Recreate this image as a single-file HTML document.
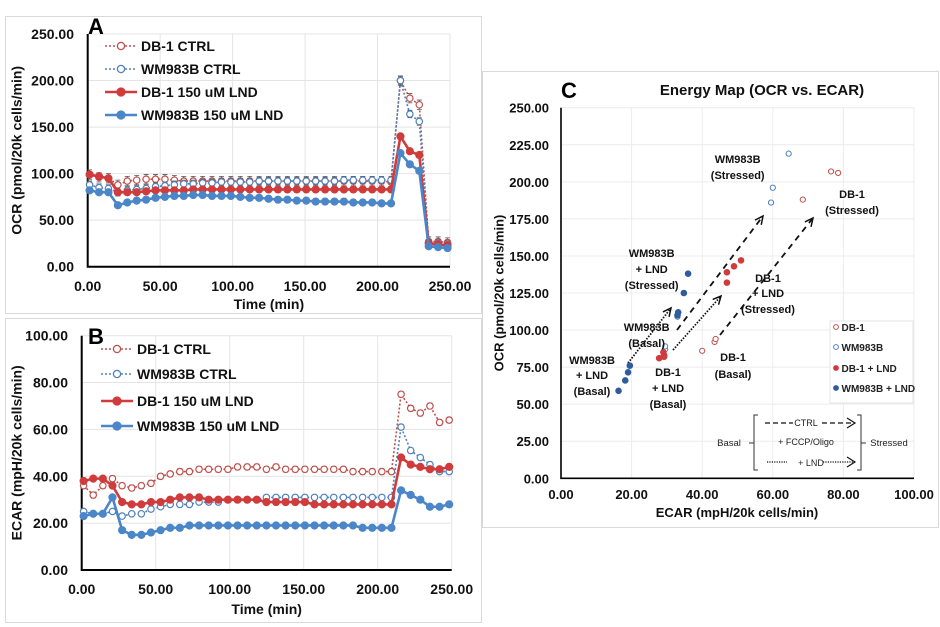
<!DOCTYPE html>
<html><head><meta charset="utf-8"><style>
html,body{margin:0;padding:0;background:#fff;}
svg{display:block;font-family:"Liberation Sans",Arial,sans-serif;}
</style></head><body>
<svg id="fig" width="940" height="627" viewBox="0 0 940 627">
<rect x="0" y="0" width="940" height="627" fill="#fff"/>
<rect x="5.5" y="16.5" width="476" height="297" fill="none" stroke="#d9d9d9"/>
<rect x="5.5" y="318.5" width="476" height="304" fill="none" stroke="#d9d9d9"/>
<rect x="482.5" y="71.5" width="456" height="456" fill="none" stroke="#d9d9d9"/>
<g id="A"></g>
<g id="B"></g>
<g id="C"></g>
</svg>
<script>
// ---------- shared data ----------
const times=[1.3,7.8,14.3,20.8,27.3,33.8,40.3,46.8,53.3,59.8,66.3,72.8,79.3,85.8,92.3,98.8,105.3,111.8,118.3,124.8,131.3,137.8,144.3,150.8,157.3,163.8,170.3,176.8,183.3,189.8,196.3,202.8,209.3,215.8,222.3,228.8,235.3,241.8,248.3];
// Panel A OCR
const ocrDbCtrl=[99,96,95,88,92,93,94,94,94,93,92,92,92,92,92,92,92,92,92,92,92,92,92,92,92,92,92,92,92,92,92,92,91,200,181,174,27,27,26];
const ocrWmCtrl=[88,85,84,80,82,83,84,86,87,88,89,89,90,90,91,91,91,91,92,92,92,92,92,92,92,92,92,93,93,93,93,93,93,200,164,156,25,25,24];
const ocrDbLnd=[99,97,95,80,80,80,81,82,82,82,82,83,83,83,83,83,83,83,83,83,83,83,83,83,83,83,83,83,83,83,83,83,83,140,124,120,25,24,23];
const ocrWmLnd=[82,80,80,66,69,71,72,74,75,76,76,77,77,76,76,76,75,74,74,73,72,72,71,71,70,70,70,70,69,69,69,68,68,122,110,103,22,21,20];
const ocrErr=[5,4,3,3];
const ocrTicks=["0.00","50.00","100.00","150.00","200.00","250.00"];
// Panel B ECAR
const ecarDbCtrl=[36,32,36,39,36,35,36,37,40,41,42,42,43,43,43,43,44,44,44,43,44,43,43,43,43,43,43,43,42,42,42,42,42,75,69,67,70,63,64];
const ecarWmCtrl=[25,24,24,25,23,24,24,26,27,28,28,28,29,29,29,30,30,30,30,31,31,31,31,31,31,31,31,31,31,31,31,31,31,61,51,48,45,42,42];
const ecarDbLnd=[38,39,39,36,29,28,28,29,29,30,31,31,31,30,30,30,30,30,30,29,29,29,29,29,28,28,28,28,28,28,28,28,28,48,45,44,43,43,44];
const ecarWmLnd=[23,24,24,31,17,15,15,16,17,18,18,19,19,19,19,19,19,19,19,19,19,19,19,19,19,19,19,19,19,18,18,18,18,34,32,30,27,27,28];
const ecarErr=[1.2,1,0.6,0.6];
const ecarTicks=["0.00","20.00","40.00","60.00","80.00","100.00"];
const timeTicks=["0.00","50.00","100.00","150.00","200.00","250.00"];
// Panel C energy map
const cDbX=[40,43.5,43.8,68.5,76.5,78.5];
const cDbY=[86,92,94,188,207,206];
const cWmX=[29.5,29.5,33,59.5,60,64.5];
const cWmY=[87,89,109,186,196,219];
const cDbLndX=[27.8,29,29.2,29.2,47,47,49,51];
const cDbLndY=[81,85,83,82,132,139,143,147];
const cWmLndX=[16.3,18.2,19,19.5,33,33.2,34.8,36];
const cWmLndY=[59,66,71.5,76,110,112,125,138];
const cXTicks=["0.00","20.00","40.00","60.00","80.00","100.00"];
const cYTicks=["0.00","25.00","50.00","75.00","100.00","125.00","150.00","175.00","200.00","225.00","250.00"];

const NS="http://www.w3.org/2000/svg";
const RED="#c0504d",BLUE="#4f81bd",RED2="#d03b3b",BLUE2="#4a86c8";
function mk(parent,tag,attrs,text){const e=document.createElementNS(NS,tag);for(const k in attrs)e.setAttribute(k,attrs[k]);if(text!==undefined)e.textContent=text;parent.appendChild(e);return e;}

function timeChart(g,o){
  const sx=v=>o.x0+(v/250)*(o.x1-o.x0);
  const sy=v=>o.y0-(v/o.ymax)*(o.y0-o.y1);
  o.yt.forEach((t,i)=>{const v=parseFloat(t);const y=sy(v);
    if(v>0){const l=mk(g,'line',{x1:o.x0,x2:o.x1,y1:y,y2:y,stroke:'#e4e4e4'});
    
    }
    const tx=mk(g,'text',{x:o.ylx,y:y+5,'text-anchor':'end','font-size':14,'font-weight':'bold',fill:'#111'},t);
    
    });
  timeTicks.forEach(t=>{const v=parseFloat(t);const x=sx(v);
    if(v>0){const l=mk(g,'line',{x1:x,x2:x,y1:o.y0,y2:o.y1,stroke:'#e4e4e4'});
    
    }
    const tx=mk(g,'text',{x:x,y:o.xly,'text-anchor':'middle','font-size':14,'font-weight':'bold',fill:'#111'},t);
    
    });
  const ax=mk(g,'path',{d:`M${o.x0} ${o.y1}V${o.y0}H${o.x1}`,stroke:'#000','stroke-width':2,fill:'none'});
  
  
  const xt=mk(g,'text',{x:(o.x0+o.x1)/2,y:o.xty,'text-anchor':'middle','font-size':14,'font-weight':'bold',fill:'#111'},'Time (min)');
  
  
  const yc=(o.y0+o.y1)/2;
  const yt=mk(g,'text',{x:18,y:yc,transform:`rotate(-90 18 ${yc})`,'text-anchor':'middle','dominant-baseline':'middle','font-size':14,'font-weight':'bold',fill:'#111'},o.ytitle);
  
  
  const lt=mk(g,'text',{x:o.letx,y:o.lety,'font-size':22,'font-weight':'bold',fill:'#000'},o.letter);
  
  
  const defs=[{d:o.s[0],c:RED,open:true,n:'DB-1 CTRL'},{d:o.s[1],c:BLUE,open:true,n:'WM983B CTRL'},{d:o.s[2],c:RED2,open:false,n:'DB-1 150 uM LND'},{d:o.s[3],c:BLUE2,open:false,n:'WM983B 150 uM LND'}];
  defs.forEach((s,k)=>{
    const sg=mk(g,'g',{});
    
    
    const pts=s.d.map((v,i)=>sx(times[i])+','+sy(v)).join(' ');
    mk(sg,'polyline',{points:pts,fill:'none',stroke:s.c,'stroke-width':s.open?1.6:2.6,'stroke-dasharray':s.open?'2 2':'none'});
    s.d.forEach((v,i)=>{const x=sx(times[i]),y=sy(v),e=o.err[k]*(o.y0-o.y1)/o.ymax;
      mk(sg,'path',{d:`M${x} ${y-e}V${y+e}M${x-2.5} ${y-e}h5M${x-2.5} ${y+e}h5`,stroke:'#555','stroke-width':0.8});
      const c=mk(sg,'circle',{cx:x,cy:y,r:s.open?3.2:3.5,fill:s.open?'#fff':s.c,stroke:s.c,'stroke-width':1.2});
      
      });
    const ly=o.legy[k];
    const lg=mk(g,'g',{});
    
    
    mk(lg,'line',{x1:o.legx,x2:o.legx+32,y1:ly,y2:ly,stroke:s.c,'stroke-width':s.open?1.6:2.6,'stroke-dasharray':s.open?'2 2':'none'});
    mk(lg,'circle',{cx:o.legx+16,cy:ly,r:s.open?3.6:4,fill:s.open?'#fff':s.c,stroke:s.c,'stroke-width':1.3});
    mk(lg,'text',{x:o.legx+36,y:ly+5,'font-size':14,'font-weight':'bold',fill:'#111'},s.n);
  });
}
timeChart(document.getElementById('A'),{x0:87.7,x1:450,y0:266.7,y1:34,ymax:250,yt:ocrTicks,ylx:74,xly:291,xty:309,ytitle:'OCR (pmol/20k cells/min)',letter:'A',letx:88,lety:34,s:[ocrDbCtrl,ocrWmCtrl,ocrDbLnd,ocrWmLnd],err:ocrErr,legx:105,legy:[46,69,92,115]});
timeChart(document.getElementById('B'),{x0:81.7,x1:451.7,y0:570,y1:335.7,ymax:100,yt:ecarTicks,ylx:68,xly:594,xty:614,ytitle:'ECAR (mpH/20k cells/min)',letter:'B',letx:88,lety:344,s:[ecarDbCtrl,ecarWmCtrl,ecarDbLnd,ecarWmLnd],err:ecarErr,legx:101,legy:[349,374,401,426]});

// ---------- Panel C ----------
(function(){
  const g=document.getElementById('C');
  const x0=561,x1=914,y0=478.3,y1=107.7;
  const sx=v=>x0+v/100*(x1-x0), sy=v=>y0-v/250*(y0-y1);
  cYTicks.forEach(t=>{const v=parseFloat(t),y=sy(v);
    if(v>0){const l=mk(g,'line',{x1:x0,x2:x1,y1:y,y2:y,stroke:'#ececec'});
    
    }
    const tx=mk(g,'text',{x:549,y:y+5,'text-anchor':'end','font-size':13,'font-weight':'bold',fill:'#111'},t);
    
    });
  cXTicks.forEach(t=>{const v=parseFloat(t),x=sx(v);
    if(v>0){const l=mk(g,'line',{x1:x,x2:x,y1:y0,y2:y1,stroke:'#ececec'});
    
    }
    const tx=mk(g,'text',{x:x,y:499,'text-anchor':'middle','font-size':13,'font-weight':'bold',fill:'#111'},t);
    
    });
  const ax=mk(g,'path',{d:`M${x0} ${y1}V${y0}H${x1}`,stroke:'#000','stroke-width':1.6,fill:'none'});
  
  
  const xt=mk(g,'text',{x:737,y:517,'text-anchor':'middle','font-size':13,'font-weight':'bold',fill:'#111'},'ECAR (mpH/20k cells/min)');
  
  
  const yt=mk(g,'text',{x:500,y:293,transform:'rotate(-90 500 293)','text-anchor':'middle','dominant-baseline':'middle','font-size':13,'font-weight':'bold',fill:'#111'},'OCR (pmol/20k cells/min)');
  
  
  const tt=mk(g,'text',{x:762,y:95,'text-anchor':'middle','font-size':15,'font-weight':'bold',fill:'#111'},'Energy Map (OCR vs. ECAR)');
  
  
  const lt=mk(g,'text',{x:561,y:98,'font-size':22,'font-weight':'bold',fill:'#000'},'C');
  
  
  const ar=[[677,330,763,216,'6 5'],[720,335,813,218,'6 5'],[628,363,671,308,'1.5 1.5'],[673,350,721,296,'1.5 1.5']];
  ar.forEach(a=>{const[xa,ya,xb,yb,da]=a;
    const ag=mk(g,'g',{});
    
    
    mk(ag,'line',{x1:xa,y1:ya,x2:xb,y2:yb,stroke:'#111','stroke-width':1.8,'stroke-dasharray':da});
    const ang=Math.atan2(yb-ya,xb-xa),L=9;
    mk(ag,'path',{d:`M${xb-L*Math.cos(ang-0.45)} ${yb-L*Math.sin(ang-0.45)}L${xb} ${yb}L${xb-L*Math.cos(ang+0.45)} ${yb-L*Math.sin(ang+0.45)}`,fill:'none',stroke:'#111','stroke-width':1.5});});
  const sets=[[cDbX,cDbY,RED,true,'db-1'],[cWmX,cWmY,BLUE,true,'wm983b'],[cDbLndX,cDbLndY,RED2,false,'db-1-lnd'],[cWmLndX,cWmLndY,'#2e5c9e',false,'wm983b-lnd']];
  sets.forEach(s=>{s[0].forEach((v,i)=>{const c=mk(g,'circle',{cx:sx(v),cy:sy(s[1][i]),r:s[3]?2.6:2.8,fill:s[3]?'#fff':s[2],stroke:s[2],'stroke-width':1});
    
    });});
  const ann=[[737.7,['WM983B','(Stressed)'],[163,179]],[852,['DB-1','(Stressed)'],[198,214]],[651.7,['WM983B','+ LND','(Stressed)'],[257,273,289]],[768,['DB-1','+ LND','(Stressed)'],[282,297,313]],[646.7,['WM983B','(Basal)'],[331,347]],[592,['WM983B','+ LND','(Basal)'],[364,379,395]],[668,['DB-1','+ LND','(Basal)'],[376,392,408]],[733,['DB-1','(Basal)'],[361,378]]];
  ann.forEach(a=>{const tg=mk(g,'g',{});
    
    
    a[1].forEach((t,i)=>mk(tg,'text',{x:a[0],y:a[2][i],'text-anchor':'middle','font-size':11,'font-weight':'bold',fill:'#111'},t));});
  const lgb=mk(g,'rect',{x:830,y:321,width:83,height:82,fill:'#fff',stroke:'#e4e4e4'});
  
  
  const ln=['DB-1','WM983B','DB-1 + LND','WM983B + LND'],ly=[327,347,368,388];
  sets.forEach((s,i)=>{const eg=mk(g,'g',{});
    
    
    mk(eg,'circle',{cx:836,cy:ly[i],r:2.4,fill:s[3]?'#fff':s[2],stroke:s[2],'stroke-width':1});
    mk(eg,'text',{x:841.5,y:ly[i]+4,'font-size':10,'font-weight':'bold',fill:'#222'},ln[i]);});
  const bk=mk(g,'g',{});
  
  
  mk(bk,'path',{d:'M758 415H754V470H758M749 443H754M857 415H861V470H857M861 443H866',fill:'none',stroke:'#333','stroke-width':1});
  mk(bk,'text',{x:729,y:446,'text-anchor':'middle','font-size':9.5,fill:'#222'},'Basal');
  mk(bk,'text',{x:889,y:446,'text-anchor':'middle','font-size':9.5,fill:'#222'},'Stressed');
  mk(bk,'line',{x1:765,x2:793,y1:423,y2:423,stroke:'#111','stroke-width':1.3,'stroke-dasharray':'5 3'});
  mk(bk,'text',{x:806,y:426,'text-anchor':'middle','font-size':9,fill:'#222'},'CTRL');
  mk(bk,'line',{x1:822,x2:854,y1:423,y2:423,stroke:'#111','stroke-width':1.3,'stroke-dasharray':'5 3'});
  mk(bk,'path',{d:'M847 418L855 423L847 428',fill:'none',stroke:'#111','stroke-width':1.2});
  mk(bk,'text',{x:806,y:445,'text-anchor':'middle','font-size':9,fill:'#222'},'+ FCCP/Oligo');
  mk(bk,'line',{x1:767,x2:787,y1:462,y2:462,stroke:'#111','stroke-width':1.2,'stroke-dasharray':'1.2 1.2'});
  mk(bk,'text',{x:811,y:466,'text-anchor':'middle','font-size':9,fill:'#222'},'+ LND');
  mk(bk,'line',{x1:823,x2:854,y1:462,y2:462,stroke:'#111','stroke-width':1.2,'stroke-dasharray':'1.2 1.2'});
  mk(bk,'path',{d:'M847 457L855 462L847 467',fill:'none',stroke:'#111','stroke-width':1.2});
})();
</script>
</body></html>
